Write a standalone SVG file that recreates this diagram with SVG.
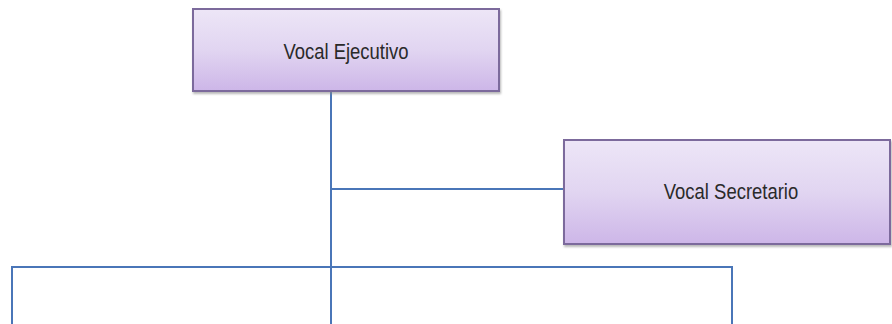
<svg xmlns="http://www.w3.org/2000/svg" width="892" height="324" viewBox="0 0 892 324">
<defs>
<linearGradient id="g" x1="0" y1="0" x2="0" y2="1">
<stop offset="0" stop-color="#ede6f7"/>
<stop offset="0.5" stop-color="#e1d5f1"/>
<stop offset="1" stop-color="#cdb6e8"/>
</linearGradient>
<filter id="sh" x="-5%" y="-5%" width="110%" height="115%">
<feDropShadow dx="1" dy="2" stdDeviation="1.2" flood-color="#888" flood-opacity="0.6"/>
</filter>
</defs>
<style>
.box{fill:url(#g);stroke:#7c6a9c;stroke-width:2;filter:url(#sh)}
.t{font-family:"Liberation Sans",Arial,sans-serif;font-size:22px;fill:#2a2a2a;text-anchor:middle}
.c{stroke:#4a76b8;stroke-width:2;fill:none}
</style>
<g id="connectors">
<path class="c" d="M331 92 V324"/>
<path class="c" d="M331 189 H564"/>
<path class="c" d="M12 324 V267 H732 V324"/>
</g>
<g id="vocal-ejecutivo">
<rect class="box" x="193" y="9" width="306" height="82"/>
<text class="t" x="346" y="59" transform="translate(346 0) scale(0.84 1) translate(-346 0)">Vocal Ejecutivo</text>
</g>
<g id="vocal-secretario">
<rect class="box" x="564" y="140" width="326" height="104"/>
<text class="t" x="731" y="199" transform="translate(731 0) scale(0.84 1) translate(-731 0)">Vocal Secretario</text>
</g>
</svg>
